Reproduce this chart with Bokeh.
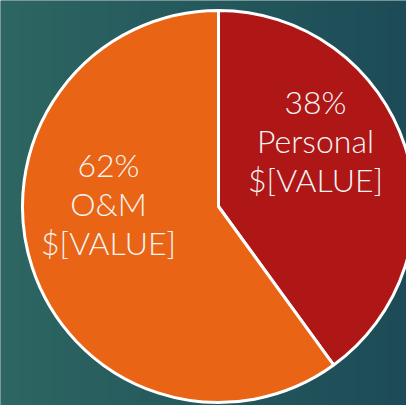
import numpy as np
from bokeh.plotting import figure
from bokeh.models import Range1d
from bokeh.core.properties import value
from bokeh.embed import file_html
from bokeh.resources import INLINE

# data
categories = ["Personal", "O&M"]
shares = [40, 60]                 # slice sizes as drawn
pct_labels = ["38%", "62%"]
value_labels = ["$[VALUE]", "$[VALUE]"]
colors = ["#AF1616", "#E96414"]

W, H = 406, 405

p = figure(width=W, height=H, output_backend="svg", toolbar_location=None,
           x_range=Range1d(0, W), y_range=Range1d(-H, 0),
           min_border=0, outline_line_color=None)
p.axis.visible = False
p.grid.visible = False
p.background_fill_color = "#275a5d"
p.border_fill_color = "#275a5d"

# background gradient (left teal -> right dark blue-green)
nx, ny = 64, 16
left = np.array([0x2d, 0x66, 0x62], dtype=float)
right = np.array([0x1d, 0x4c, 0x58], dtype=float)
img = np.zeros((ny, nx), dtype=np.uint32)
view = img.view(dtype=np.uint8).reshape((ny, nx, 4))
for i in range(nx):
    t = i / (nx - 1)
    c = left * (1 - t) + right * t
    view[:, i, 0] = int(c[0]); view[:, i, 1] = int(c[1]); view[:, i, 2] = int(c[2]); view[:, i, 3] = 255
p.image_rgba(image=[img], x=0, y=-H, dw=W, dh=H)

# pie
cx, cy, r = 218, -206, 196
total = float(sum(shares))
start = np.pi / 2
starts, ends = [], []
for s in shares:
    ang = 2 * np.pi * s / total
    starts.append(start)
    ends.append(start - ang)
    start -= ang
p.wedge(x=cx, y=cy, radius=r, start_angle=starts, end_angle=ends,
        direction="clock", fill_color=colors, line_color="white", line_width=3)

# labels
label_x = [315, 108]
label_y = [-101, -164]
line_gap = 39
for i in range(len(categories)):
    lines = [pct_labels[i], categories[i], value_labels[i]]
    p.text(x=[label_x[i]] * 3, y=[label_y[i] - k * line_gap for k in range(3)],
           text=lines, text_align="center", text_baseline="middle",
           text_color="#F4F4F4", text_font=value("Lato Light"), text_font_size="32px")

open("out.html", "w").write(file_html(p, INLINE))
